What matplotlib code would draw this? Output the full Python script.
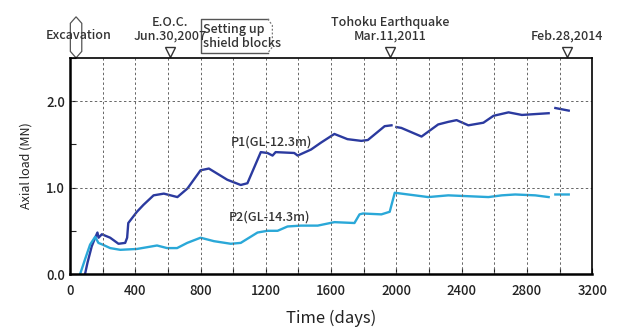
import numpy as np
import matplotlib.pyplot as plt
from matplotlib.patches import Polygon

plt.rcParams['font.family'] = ['Noto Sans CJK JP', 'DejaVu Sans']
plt.rcParams['font.weight'] = 'medium'

# P1 (GL-12.3m), days / MN ; nan marks the data gap
p1_day = [92, 107, 133, 154, 168, 175, 195, 246, 297, 338, 350, 357, 410, 450, 512,
          575, 658, 720, 800, 851, 964, 1046, 1087, 1169, 1210, 1241, 1260, 1374, 1395,
          1477, 1538, 1620, 1700, 1785, 1825, 1928, 1970, 1985, 2000, 2030, 2154, 2256,
          2318, 2369, 2441, 2533, 2595, 2687, 2769, 2933, 2950, 2974, 3056]
p1_val = [0.0, 0.13, 0.32, 0.42, 0.48, 0.42, 0.46, 0.42, 0.35, 0.36, 0.42, 0.59, 0.72,
          0.80, 0.91, 0.93, 0.89, 0.99, 1.20, 1.22, 1.09, 1.03, 1.05, 1.41, 1.40, 1.37,
          1.41, 1.40, 1.37, 1.44, 1.52, 1.62, 1.56, 1.54, 1.55, 1.71, 1.72, np.nan, 1.70,
          1.69, 1.59, 1.73, 1.76, 1.78, 1.72, 1.75, 1.83, 1.87, 1.84, 1.86, np.nan, 1.92,
          1.89]

# P2 (GL-14.3m)
p2_day = [62, 92, 123, 154, 174, 200, 246, 308, 410, 472, 533, 595, 656, 718, 800,
          882, 985, 1046, 1149, 1210, 1272, 1333, 1415, 1518, 1620, 1743, 1774, 1795,
          1908, 1959, 1990, 2031, 2195, 2318, 2441, 2564, 2646, 2728, 2851, 2933, 2950,
          2974, 3056]
p2_val = [0.0, 0.17, 0.34, 0.43, 0.36, 0.34, 0.30, 0.28, 0.29, 0.31, 0.33, 0.30, 0.30,
          0.36, 0.42, 0.38, 0.35, 0.36, 0.48, 0.50, 0.50, 0.55, 0.56, 0.56, 0.60, 0.59,
          0.69, 0.70, 0.69, 0.72, 0.94, 0.93, 0.89, 0.91, 0.90, 0.89, 0.91, 0.92, 0.91,
          0.89, np.nan, 0.92, 0.92]

events_day = [613, 1963, 3046]
events_txt = ['E.O.C.\nJun.30,2007', 'Tohoku Earthquake\nMar.11,2011', 'Feb.28,2014']

fig = plt.figure(figsize=(6.18, 3.27), dpi=100)
ax = fig.add_axes([0.1133, 0.162, 0.845, 0.661])

ax.plot(p1_day, p1_val, color='#2b3a9f', lw=1.7)
ax.plot(p2_day, p2_val, color='#2aa8d8', lw=1.7)

ax.set_xlim(0, 3200)
ax.set_ylim(0, 2.5)
ax.set_xticks(np.arange(0, 3201, 200))
ax.set_xticklabels([str(v) if v % 400 == 0 else '' for v in range(0, 3201, 200)])
ax.set_yticks([0, 0.5, 1.0, 1.5, 2.0, 2.5])
ax.set_yticklabels(['0.0', '', '1.0', '', '2.0', ''])
ax.tick_params(direction='in', length=4, labelsize=9.5, colors='#222')
ax.tick_params(axis='x', pad=7)

for v in range(200, 3200, 200):
    ax.axvline(v, color='#666', lw=0.7, ls=(0, (2.5, 2.5)))
for v in [1.0, 2.0]:
    ax.axhline(v, color='#666', lw=0.7, ls=(0, (2.5, 2.5)))

for s in ['left', 'bottom']:
    ax.spines[s].set_linewidth(1.8)
for s in ['top', 'right']:
    ax.spines[s].set_linewidth(1.2)

ax.set_xlabel('Time (days)', fontsize=12, color='#222', labelpad=9)
ax.set_ylabel('Axial load (MN)', fontsize=9, color='#222', labelpad=10)

ax.text(985, 1.53, 'P1(GL-12.3m)', fontsize=9, color='#333', va='center')
ax.text(972, 0.66, 'P2(GL-14.3m)', fontsize=9, color='#333', va='center')

# event markers above the frame
tr = ax.get_xaxis_transform()
for d, t in zip(events_day, events_txt):
    ax.plot([d], [1.028], marker='v', ms=7, mfc='white', mec='#333', mew=1.0,
            transform=tr, clip_on=False)
    ax.text(d, 1.07, t, transform=tr, ha='center', va='bottom', fontsize=9,
            color='#333', linespacing=1.1)

# excavation bracket
hexa = Polygon([(37, 1.0), (2, 1.03), (2, 1.16), (37, 1.19), (72, 1.16), (72, 1.03)],
               closed=True, fill=False, ec='#555', lw=0.9, transform=tr, clip_on=False)
ax.add_patch(hexa)
ax.text(55, 1.105, 'Excavation', transform=tr, ha='center', va='center',
        fontsize=9, color='#333')

# shield blocks box
ax.plot([1212, 800, 800, 1212], [1.18, 1.18, 1.023, 1.023], color='#555', lw=1.0,
        transform=tr, clip_on=False)
ax.plot([1212, 1240, 1240, 1212], [1.18, 1.15, 1.05, 1.023], color='#777', lw=0.9,
        ls=(0, (1.5, 1.5)), transform=tr, clip_on=False)
ax.text(812, 1.10, 'Setting up\nshield blocks', transform=tr, ha='left', va='center',
        fontsize=9, color='#333', linespacing=1.05)

fig.savefig('out.png', dpi=100)
